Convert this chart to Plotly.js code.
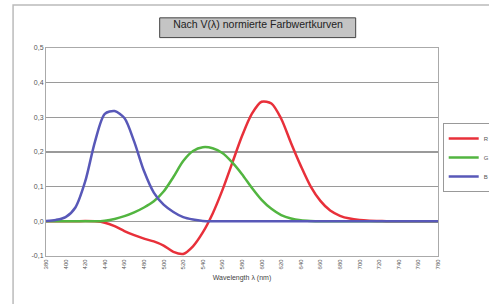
<!DOCTYPE html>
<html>
<head>
<meta charset="utf-8">
<script src="https://cdn.plot.ly/plotly-3.0.1.min.js"></script>
<style>html,body{margin:0;padding:0;background:#fff;}#chart{width:489px;height:304px;}</style>
</head>
<body>
<div id="chart"></div>
<script>
const wavelengths = [380,390,400,410,420,430,440,450,460,470,480,490,500,510,520,530,540,550,560,570,580,590,600,610,620,630,640,650,660,670,680,690,700,710,720,730,740,750,760,770,780];
const rValues = [0,0,0,0,0.001,0,-0.004,-0.014,-0.028,-0.040,-0.050,-0.058,-0.070,-0.088,-0.094,-0.072,-0.032,0.022,0.090,0.168,0.246,0.310,0.345,0.340,0.296,0.226,0.160,0.101,0.059,0.031,0.016,0.008,0.004,0.002,0.001,0,0,0,0,0,0];
const gValues = [0,0,0,0,0,0,0.002,0.007,0.015,0.026,0.040,0.058,0.086,0.128,0.174,0.203,0.214,0.211,0.197,0.170,0.136,0.097,0.062,0.036,0.018,0.008,0.003,0.001,0,0,0,0,0,0,0,0,0,0,0,0,0];
const bValues = [0.001,0.004,0.012,0.040,0.115,0.230,0.310,0.318,0.298,0.230,0.145,0.083,0.048,0.027,0.012,0.005,0.001,0,0,0,0,0,0,0,0,0,0,0,0,0,0,0,0,0,0,0,0,0,0,0,0];
const seriesNames = ["R (λ)", "G (λ)", "B (λ)"];
const xTickVals = [380,400,420,440,460,480,500,520,540,560,580,600,620,640,660,680,700,720,740,760,780];
const xTickText = xTickVals.map(String);
const yTickVals = [-0.1,0,0.1,0.2,0.3,0.4,0.5];
const yTickText = ["-0,1","0,0","0,1","0,2","0,3","0,4","0,5"];
const chartTitle = "Nach V(λ) normierte Farbwertkurven";
const xTitle = "Wavelength λ (nm)";

const colors = ["#e8303a", "#52b540", "#5858b8"];
const vals = [rValues, gValues, bValues];
const traces = vals.map((v, i) => ({
  x: wavelengths, y: v, type: "scatter", mode: "lines", name: seriesNames[i],
  line: {color: colors[i], width: 2.5, shape: "spline", smoothing: 0.8}
}));

const font = {family: "Liberation Sans, Arial, sans-serif", color: "#555"};
const layout = {
  width: 489, height: 304,
  margin: {l: 46, r: 51, t: 48, b: 48, autoexpand: false},
  paper_bgcolor: "#fff", plot_bgcolor: "#fff",
  font: font,
  title: {text: chartTitle, x: 0.541, xref: "paper", xanchor: "center", y: 1.096, yref: "paper", yanchor: "middle",
          font: {family: "Liberation Sans, Arial, sans-serif", size: 10.5, color: "#222"}},
  showlegend: true,
  legend: {x: 1.012, y: 0.64, xanchor: "left", yanchor: "top", bgcolor: "#fff",
           bordercolor: "#999", borderwidth: 1, font: {size: 6, color: "#555"},
           itemwidth: 30, tracegroupgap: 0},
  xaxis: {range: [380, 780], tickmode: "array", tickvals: xTickVals, ticktext: xTickText,
          tickangle: -90, tickfont: {size: 6, color: "#555"}, showgrid: false, zeroline: false,
          showline: true, linecolor: "#aaa", linewidth: 1, mirror: true, ticks: "",
          title: {text: xTitle, font: {size: 7, color: "#444"}, standoff: 6}},
  yaxis: {range: [-0.1, 0.5], tickmode: "array", tickvals: yTickVals, ticktext: yTickText,
          tickfont: {size: 7, color: "#555"}, showgrid: true, gridcolor: "#9a9a9a", gridwidth: 1.5,
          zeroline: false, showline: true, linecolor: "#aaa", linewidth: 1, mirror: true, ticks: ""},
  shapes: [
    {type: "rect", xref: "paper", yref: "paper", x0: -0.084, x1: 1.2, y0: -0.3, y1: 1.207,
     line: {color: "#bbb", width: 1.5}, fillcolor: "rgba(0,0,0,0)", layer: "below"},
    {type: "rect", xref: "paper", yref: "paper", x0: 0.29, x1: 0.79, y0: 1.05, y1: 1.145,
     line: {color: "#444", width: 1}, fillcolor: "#c4c4c4", layer: "above"}
  ]
};
Plotly.newPlot("chart", traces, layout, {displayModeBar: false, staticPlot: true});
</script>
</body>
</html>
